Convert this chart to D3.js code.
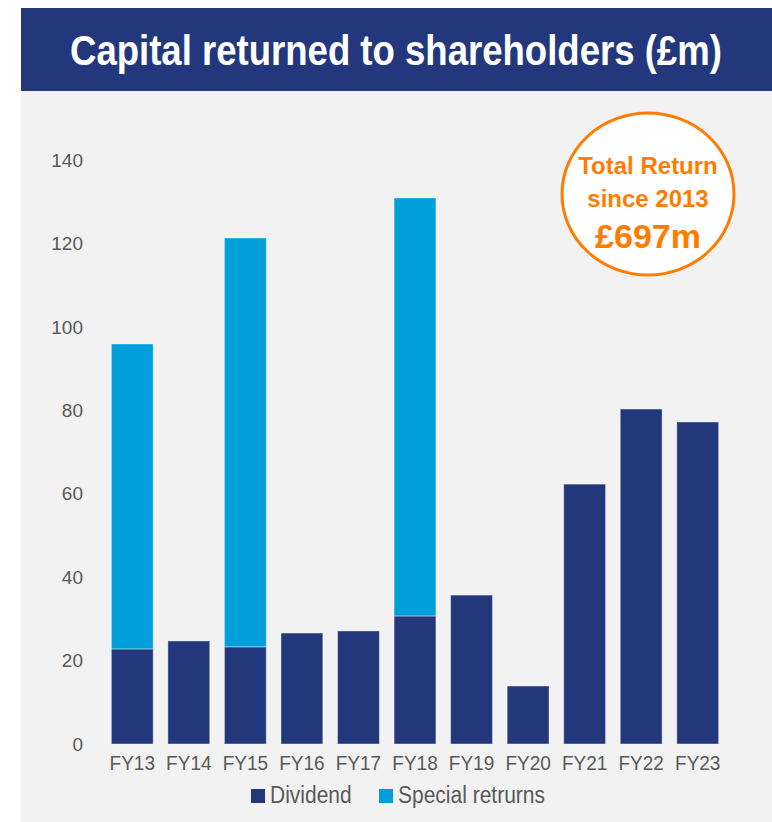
<!DOCTYPE html>
<html lang="en">
  <head>
    <meta charset="UTF-8" />
    <title>Capital returned to shareholders</title>
    <style>
      body { margin: 0; background: #fff; }
      text { font-family: "Liberation Sans", Arial, sans-serif; }
    </style>
  </head>
  <body>
    <svg id="svg" width="772" height="822"></svg>

    <script src="https://d3js.org/d3.v7.min.js"></script>
    <script>
      const years = ["FY13", "FY14", "FY15", "FY16", "FY17", "FY18", "FY19", "FY20", "FY21", "FY22", "FY23"];
      const dividend = [22.8, 24.7, 23.3, 26.6, 27.1, 30.7, 35.7, 13.9, 62.3, 80.3, 77.2];
      const special = [73.1, 0, 98.0, 0, 0, 100.2, 0, 0, 0, 0, 0];
      const yTicks = [0, 20, 40, 60, 80, 100, 120, 140];
      const seriesNames = ["Dividend", "Special retrurns"];

      const colors = ["#23387c", "#009fdb"];
      const svg = d3.select("#svg");

      // panel + title bar
      svg.append("rect").attr("x", 21).attr("y", 91).attr("width", 751).attr("height", 731).attr("fill", "#f2f2f2");
      svg.append("rect").attr("x", 21).attr("y", 8).attr("width", 751).attr("height", 83).attr("fill", "#23387c");

      // title is a condensed face: squeeze it horizontally to fit
      const title = svg.append("text")
        .attr("fill", "#fff")
        .attr("font-size", 42)
        .attr("font-weight", "bold")
        .text("Capital returned to shareholders (£m)");
      const tw = title.node().getComputedTextLength();
      title.attr("transform", `translate(70,65) scale(${652 / tw},1)`);

      const x = d3.scaleBand().domain(years).range([104, 726]).paddingInner(0.26).paddingOuter(0.13);
      const y = d3.scaleLinear().domain([0, 140]).range([744, 160]);

      // y axis labels
      svg.append("g").selectAll("text")
        .data(yTicks)
        .enter()
        .append("text")
        .attr("x", 83)
        .attr("y", (d) => y(d))
        .attr("dy", "0.35em")
        .attr("text-anchor", "end")
        .attr("font-size", 19)
        .attr("fill", "#595959")
        .text((d) => d);

      // stacked bars
      const rows = years.map((yr, i) => ({ year: yr, dividend: dividend[i], special: special[i] }));
      const stack = d3.stack().keys(["dividend", "special"])(rows);

      svg.append("g").selectAll("g")
        .data(stack)
        .enter()
        .append("g")
        .attr("fill", (d, i) => colors[i])
        .selectAll("rect")
        .data((d) => d.filter((p) => p[1] - p[0] > 0))
        .enter()
        .append("rect")
        .attr("x", (d) => x(d.data.year))
        .attr("y", (d) => y(d[1]))
        .attr("width", x.bandwidth())
        .attr("height", (d) => y(d[0]) - y(d[1]))
        .attr("stroke", "rgba(255,255,255,0.4)")
        .attr("stroke-width", 1);

      // x labels (slightly tall glyphs as in the source)
      svg.append("g").selectAll("text")
        .data(years)
        .enter()
        .append("text")
        .attr("transform", (d) => `translate(${x(d) + x.bandwidth() / 2},770) scale(1,1.1)`)
        .attr("text-anchor", "middle")
        .attr("font-size", 19)
        .attr("fill", "#595959")
        .text((d) => d);

      // legend
      const legendX = [251, 379];
      const legend = svg.append("g").selectAll("g")
        .data(seriesNames)
        .enter()
        .append("g")
        .attr("transform", (d, i) => `translate(${legendX[i]},789)`);
      legend.append("rect").attr("width", 14).attr("height", 14).attr("fill", (d, i) => colors[i]);
      legend.append("text")
        .attr("transform", "translate(19,14) scale(1,1.1)")
        .attr("font-size", 21)
        .attr("fill", "#595959")
        .text((d) => d);

      // total return badge
      const badge = svg.append("g").attr("transform", "translate(648,194)");
      badge.append("ellipse").attr("rx", 86).attr("ry", 81).attr("fill", "#fff")
        .attr("stroke", "#ff7c00").attr("stroke-width", 3);
      const badgeText = [
        { t: "Total Return", y: -20, s: 24 },
        { t: "since 2013", y: 13, s: 24 },
        { t: "£697m", y: 54, s: 34 }
      ];
      badge.selectAll("text")
        .data(badgeText)
        .enter()
        .append("text")
        .attr("y", (d) => d.y)
        .attr("text-anchor", "middle")
        .attr("font-weight", "bold")
        .attr("font-size", (d) => d.s)
        .attr("fill", "#ff7c00")
        .text((d) => d.t);
    </script>
  </body>
</html>
